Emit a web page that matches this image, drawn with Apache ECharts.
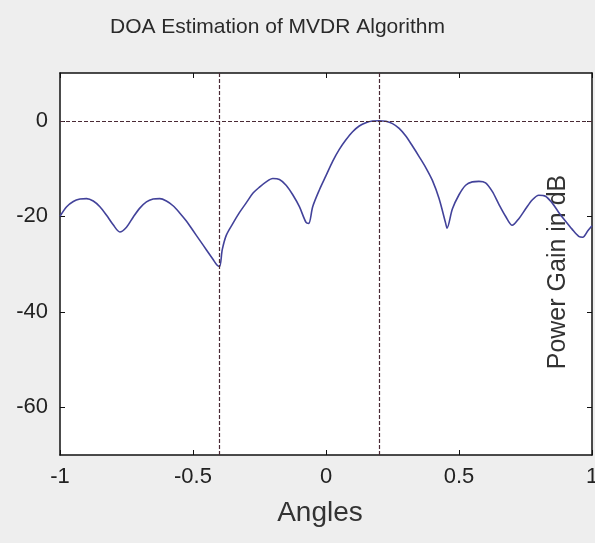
<!DOCTYPE html>
<html>
<head>
<meta charset="utf-8">
<script src="https://cdn.jsdelivr.net/npm/echarts@6/dist/echarts.min.js"></script>
<style>
html,body{margin:0;padding:0;background:#eeeeee;}
#chart{width:595px;height:543px;}
</style>
</head>
<body>
<div id="chart"></div>
<script>
// Angles (x) and power gain in dB (y)
const angles = [-1.00,-0.975,-0.95,-0.925,-0.90,-0.875,-0.85,-0.825,-0.80,-0.775,-0.75,-0.725,-0.70,-0.675,-0.65,-0.625,-0.60,-0.575,-0.55,-0.525,-0.50,-0.475,-0.45,-0.425,-0.41,-0.40,-0.39,-0.375,-0.35,-0.325,-0.30,-0.275,-0.25,-0.225,-0.20,-0.175,-0.15,-0.125,-0.10,-0.075,-0.065,-0.05,-0.025,0.00,0.025,0.05,0.075,0.10,0.125,0.15,0.175,0.20,0.225,0.25,0.275,0.30,0.325,0.35,0.375,0.40,0.425,0.45,0.455,0.475,0.50,0.525,0.55,0.575,0.60,0.625,0.65,0.675,0.70,0.725,0.75,0.775,0.80,0.825,0.85,0.875,0.90,0.925,0.95,0.965,0.985,1.00];
const gainDb = [-20.0,-18.0,-16.9,-16.4,-16.3,-16.8,-18.0,-19.8,-21.8,-23.3,-22.3,-20.2,-18.3,-17.0,-16.4,-16.3,-16.8,-17.8,-19.3,-21.0,-23.0,-25.0,-27.0,-29.0,-30.2,-30.5,-27.0,-24.0,-21.5,-19.2,-17.2,-15.2,-13.9,-12.8,-12.1,-12.3,-13.5,-15.5,-18.0,-21.3,-21.5,-18.0,-14.5,-11.5,-8.5,-6.0,-4.0,-2.3,-1.1,-0.4,-0.05,0.0,-0.1,-0.6,-1.6,-3.2,-5.3,-7.5,-9.8,-12.5,-16.3,-21.5,-22.5,-18.5,-15.5,-13.5,-12.8,-12.7,-13.0,-14.8,-17.5,-20.0,-21.9,-20.5,-18.5,-16.6,-15.6,-15.8,-17.2,-19.2,-21.0,-22.7,-24.2,-24.4,-23.0,-22.0];
const doaAngles = [-0.4, 0.2];
const refLevels = [0];
const yTickValues = [-60, -40, -20, 0];

const chart = echarts.init(document.getElementById('chart'), null, {renderer: 'canvas'});
const font = 'Liberation Sans, Arial, Helvetica, sans-serif';
const markData = doaAngles.map(a => ({xAxis: a})).concat(refLevels.map(v => ({yAxis: v})));

chart.setOption({
  animation: false,
  backgroundColor: '#eeeeee',
  title: {
    text: 'DOA Estimation of MVDR Algorithm',
    left: 105, top: 12,
    textStyle: {fontFamily: font, fontSize: 21, fontWeight: 'normal', color: '#2a2a2a'}
  },
  grid: {left: 60, right: 3, top: 73, bottom: 88, show: true, backgroundColor: '#ffffff', borderWidth: 0, outerBoundsMode: 'none', containLabel: false},
  xAxis: [{
    type: 'value', min: -1, max: 1, interval: 0.5, position: 'bottom',
    name: 'Angles', nameLocation: 'middle', nameGap: 44,
    nameTextStyle: {fontFamily: font, fontSize: 28, color: '#333', padding: [0, 12, 0, 0]},
    axisLine: {show: true, onZero: false, lineStyle: {color: '#111', width: 1.5}},
    axisTick: {show: true, inside: true, length: 5, lineStyle: {color: '#111'}},
    axisLabel: {fontFamily: font, fontSize: 22, color: '#222', margin: 11},
    splitLine: {show: false}
  }, {
    type: 'value', min: -1, max: 1, interval: 0.5, position: 'top',
    axisLine: {show: true, onZero: false, lineStyle: {color: '#111', width: 1.5}},
    axisTick: {show: true, inside: true, length: 5, lineStyle: {color: '#111'}},
    axisLabel: {show: false}, splitLine: {show: false}
  }],
  yAxis: [{
    type: 'value', min: -70, max: 10, position: 'left',
    axisLine: {show: true, onZero: false, lineStyle: {color: '#111', width: 1.5}},
    axisTick: {show: true, inside: true, length: 5, customValues: yTickValues, lineStyle: {color: '#111'}},
    axisLabel: {fontFamily: font, fontSize: 22, color: '#222', margin: 12, customValues: yTickValues},
    splitLine: {show: false}
  }, {
    type: 'value', min: -70, max: 10, position: 'right',
    name: 'Power Gain in dB', nameLocation: 'middle', nameRotate: 90, nameGap: -46,
    nameTextStyle: {fontFamily: font, fontSize: 25, color: '#333', padding: [0, 16, 0, 0]},
    axisLine: {show: true, onZero: false, lineStyle: {color: '#111', width: 1.5}},
    axisTick: {show: true, inside: true, length: 5, customValues: yTickValues, lineStyle: {color: '#111'}},
    axisLabel: {show: false}, splitLine: {show: false}
  }],
  series: [{
    type: 'line',
    data: angles.map((a, i) => [a, gainDb[i]]),
    showSymbol: false, smooth: 0.3,
    lineStyle: {color: '#42429a', width: 1.6},
    z: 3,
    markLine: {
      silent: true, symbol: 'none', label: {show: false},
      lineStyle: {color: '#4a2a35', type: [4, 2], width: 1.2},
      data: markData
    }
  }]
});
</script>
</body>
</html>
